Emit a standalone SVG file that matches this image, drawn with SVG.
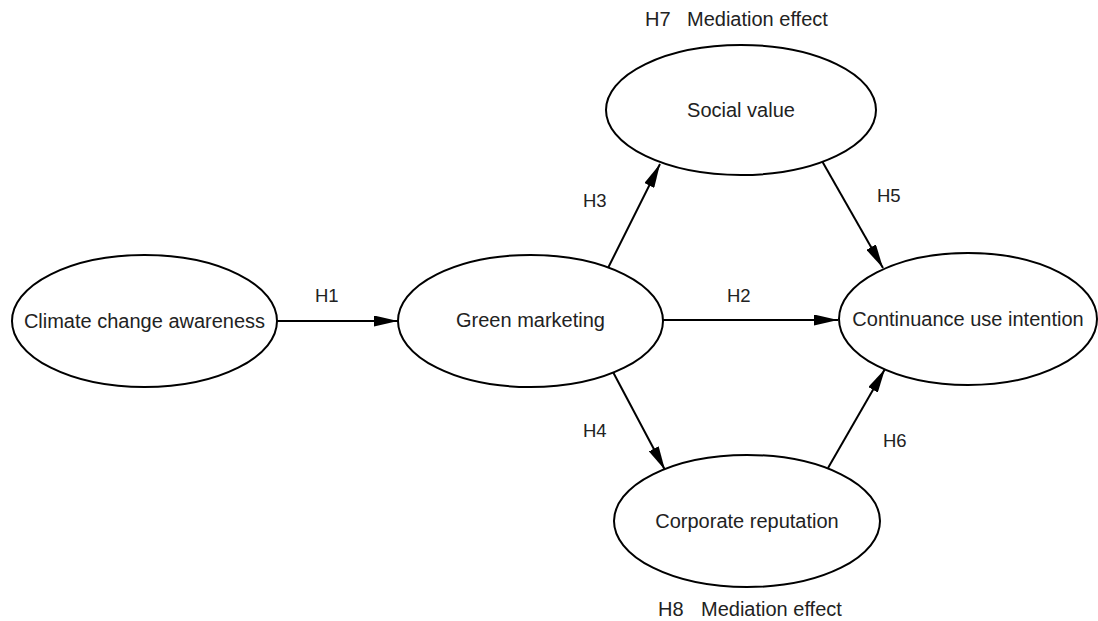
<svg xmlns="http://www.w3.org/2000/svg" width="1098" height="621" viewBox="0 0 1098 621">
<defs>
<marker id="arr" viewBox="0 0 24 11" refX="24" refY="5.5" markerWidth="24" markerHeight="11" markerUnits="userSpaceOnUse" orient="auto">
<path d="M0,0 L24,5.5 L0,11 Z" fill="#000"/>
</marker>
<style>
.node ellipse{fill:#fff;stroke:#000;stroke-width:2}
.node text{font-family:"Liberation Sans",Arial,sans-serif;font-size:20px;fill:#222;text-anchor:middle}
.edge line{stroke:#000;stroke-width:2;marker-end:url(#arr)}
.lbl{font-family:"Liberation Sans",Arial,sans-serif;font-size:18.5px;fill:#222}
.lbl2{font-family:"Liberation Sans",Arial,sans-serif;font-size:20px;fill:#222}
</style>
</defs>
<rect width="1098" height="621" fill="#fff"/>
<g id="connectors" class="edge">
<line x1="277" y1="321" x2="398" y2="321"/>
<line x1="663" y1="320" x2="838" y2="320"/>
<line x1="608" y1="268" x2="660" y2="164"/>
<line x1="822" y1="161" x2="883" y2="268"/>
<line x1="613" y1="372" x2="665" y2="470"/>
<line x1="828" y1="468" x2="885" y2="369"/>
</g>
<g id="node-climate" class="node">
<ellipse cx="144.5" cy="321" rx="132.5" ry="66"/>
<text x="144.5" y="328">Climate change awareness</text>
</g>
<g id="node-green" class="node">
<ellipse cx="530.5" cy="321" rx="132.5" ry="66"/>
<text x="530.5" y="327">Green marketing</text>
</g>
<g id="node-social" class="node">
<ellipse cx="741" cy="110" rx="135" ry="65"/>
<text x="741" y="117">Social value</text>
</g>
<g id="node-corporate" class="node">
<ellipse cx="747" cy="521" rx="133" ry="66"/>
<text x="747" y="528">Corporate reputation</text>
</g>
<g id="node-continuance" class="node">
<ellipse cx="968" cy="319" rx="129" ry="66"/>
<text x="968" y="326">Continuance use intention</text>
</g>
<g id="labels">
<text class="lbl" x="315" y="302">H1</text>
<text class="lbl" x="727" y="302">H2</text>
<text class="lbl" x="583" y="207">H3</text>
<text class="lbl" x="583" y="437">H4</text>
<text class="lbl" x="877" y="202">H5</text>
<text class="lbl" x="883" y="447">H6</text>
<text class="lbl2" x="645" y="26">H7</text>
<text class="lbl2" x="687" y="26">Mediation effect</text>
<text class="lbl2" x="658" y="616">H8</text>
<text class="lbl2" x="701" y="616">Mediation effect</text>
</g>
</svg>
